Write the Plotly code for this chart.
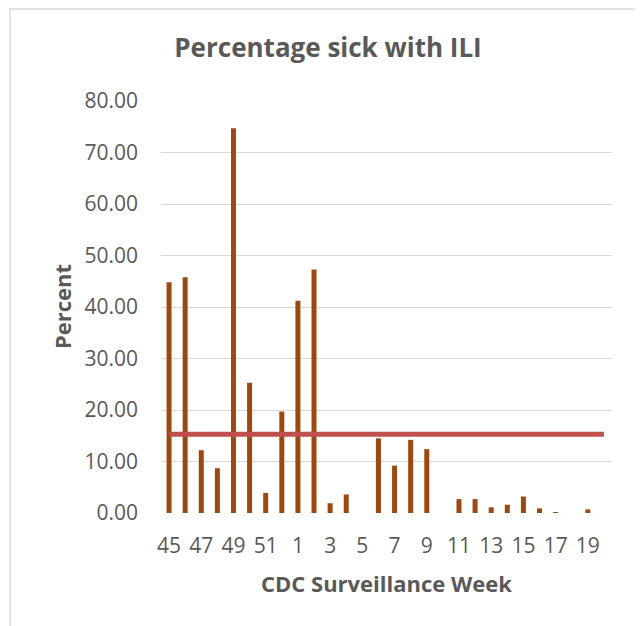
import plotly.graph_objects as go

weeks = ["45", "46", "47", "48", "49", "50", "51", "52",
         "1", "2", "3", "4", "5", "6", "7", "8", "9", "10",
         "11", "12", "13", "14", "15", "16", "17", "18", "19", "20"]
percent_sick = [44.8, 45.8, 12.2, 8.7, 74.7, 25.3, 3.9, 19.7,
                41.2, 47.3, 1.9, 3.6, 0.0, 14.5, 9.2, 14.2, 12.4, 0.0,
                2.7, 2.7, 1.1, 1.6, 3.2, 0.9, 0.15, 0.0, 0.7, 0.0]
threshold = [15.3] * len(weeks)
tick_labels = ["45", "47", "49", "51", "1", "3", "5", "7", "9",
               "11", "13", "15", "17", "19"]
y_ticks = [0, 10, 20, 30, 40, 50, 60, 70, 80]

TXT = "#595959"
FONT = "Open Sans"

W, H = 635, 618
PL, PR, PT, PB = 153, 604, 93, 505  # plot area in figure px

fig = go.Figure()
fig.add_trace(go.Bar(x=weeks, y=percent_sick, marker_color="#9E480E",
                     marker_line_width=0, showlegend=False))
fig.add_trace(go.Scatter(x=weeks, y=threshold, mode="lines",
                         line=dict(color="#C0504D", width=5),
                         showlegend=False))

pw, ph = PR - PL, PB - PT
fig.update_layout(
    width=W, height=H,
    margin=dict(l=PL, r=W - PR, t=PT, b=H - PB),
    paper_bgcolor="white", plot_bgcolor="white",
    bargap=0.69,
    font=dict(family=FONT, color=TXT, size=21),
    title=dict(text="<b>Percentage sick with ILI</b>", x=320 / W, xref="container",
               xanchor="center", y=1 - 40 / H, yref="container", yanchor="middle",
               font=dict(family=FONT, size=26, color=TXT)),
    xaxis=dict(type="category", categoryorder="array", categoryarray=weeks,
               tickmode="array", tickvals=tick_labels, ticktext=tick_labels,
               showgrid=False, showline=False, ticks="", zeroline=False,
               ticklabelstandoff=18,
               tickfont=dict(family=FONT, size=21, color=TXT)),
    yaxis=dict(range=[0, 80], tickmode="array", tickvals=y_ticks,
               tickformat=".2f", showgrid=True, gridcolor="#D9D9D9", gridwidth=1,
               zeroline=False, showline=False, ticks="",
               ticklabelstandoff=22,
               tickfont=dict(family=FONT, size=21, color=TXT)),
    annotations=[
        dict(text="<b>CDC Surveillance Week</b>", xref="paper", yref="paper",
             x=(378 - PL) / pw, y=(PB - 575) / ph, xanchor="center", yanchor="middle",
             showarrow=False, font=dict(family=FONT, size=22, color=TXT)),
        dict(text="<b>Percent</b>", xref="paper", yref="paper",
             x=(54 - PL) / pw, y=(PB - 299) / ph, xanchor="center", yanchor="middle",
             textangle=-90, showarrow=False,
             font=dict(family=FONT, size=22, color=TXT)),
    ],
    shapes=[dict(type="rect", xref="paper", yref="paper",
                 x0=(2 - PL) / pw, x1=(633 - PL) / pw,
                 y0=(PB - 700) / ph, y1=(PB - 1) / ph,
                 line=dict(color="#D9D9D9", width=1.5), fillcolor="rgba(0,0,0,0)",
                 layer="below")],
)

fig.write_html("out.html")
